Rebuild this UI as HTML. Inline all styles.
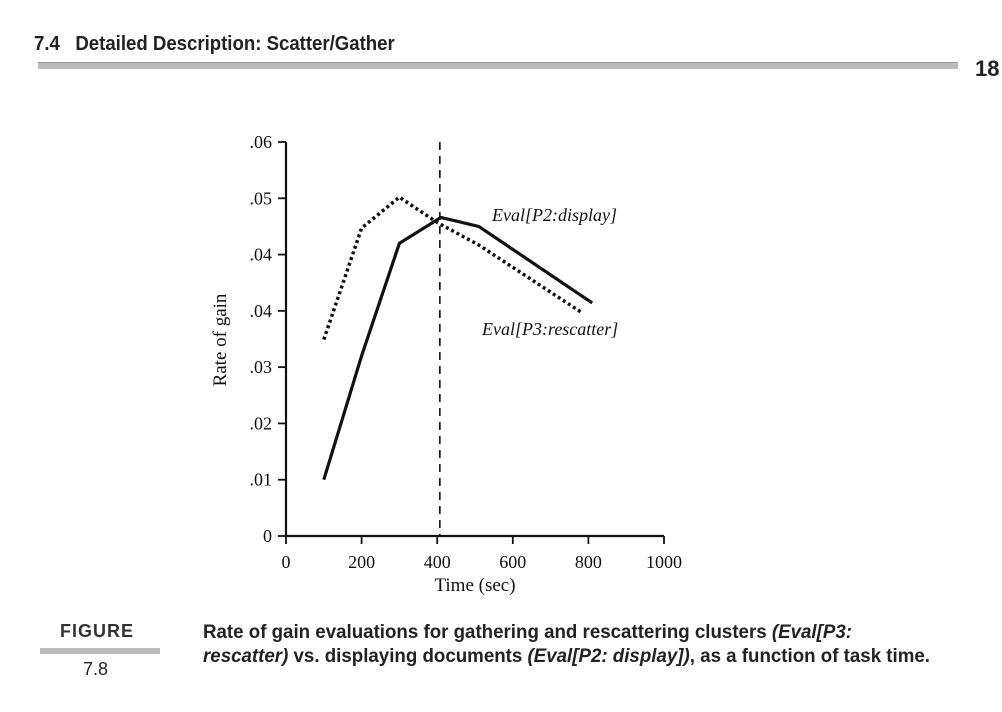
<!DOCTYPE html>
<html><head><meta charset="utf-8"><style>
html,body{margin:0;padding:0;background:#fff;width:1002px;height:712px;overflow:hidden;position:relative}
.sans{font-family:"Liberation Sans",sans-serif}
.serif{font-family:"Liberation Serif",serif}
</style></head><body>
<div class="sans" style="position:absolute;left:34px;top:33px;font-size:20px;font-weight:bold;color:#222;transform:scaleX(0.93);transform-origin:left">7.4&nbsp;&nbsp;&nbsp;Detailed Description: Scatter/Gather</div>
<div style="position:absolute;left:38px;top:62px;width:920px;height:6px;background:#bbb;border-top:1px solid #999"></div>
<div class="sans" style="position:absolute;left:975px;top:56px;font-size:22px;font-weight:bold;color:#222">18</div>
<svg id="chart" width="1002" height="712" style="position:absolute;left:0;top:0"></svg>
<div class="sans" style="position:absolute;left:60px;top:621px;font-size:18px;font-weight:bold;color:#333;letter-spacing:1px">FIGURE</div>
<div style="position:absolute;left:40px;top:648px;width:120px;height:6px;background:#bbb"></div>
<div class="sans" style="position:absolute;left:83px;top:659px;font-size:18px;color:#222">7.8</div>
<div class="sans" style="position:absolute;left:203px;top:621px;font-size:19px;font-weight:bold;line-height:24px;color:#222;width:790px;white-space:nowrap;transform:scaleX(0.985);transform-origin:left">Rate of gain evaluations for gathering and rescattering clusters <i>(Eval[P3:<br>rescatter)</i> vs. displaying documents <i>(Eval[P2: display])</i>, as a function of task time.</div>
<script>
const xTicks=[0,200,400,600,800,1000];
const yTickVals=[0,0.01,0.02,0.03,0.04,0.05,0.06,0.07];
const yTickLabels=['0','.01','.02','.03','.04','.04','.05','.06'];
const displayX=[100,200,300,410,510,810];
const displayY=[0.010,0.032,0.052,0.0566,0.055,0.0414];
const rescatterX=[100,200,300,400,510,780];
const rescatterY=[0.0349,0.0547,0.0602,0.0557,0.0517,0.0398];
const markerX=[407];
const NS='http://www.w3.org/2000/svg';
const svg=document.getElementById('chart');
const X0=286,X1=664,Y0=536,Y1=142;
const sx=v=>X0+(v/1000)*(X1-X0);
const sy=v=>Y0-(v/0.07)*(Y0-Y1);
function mk(tag,attrs){const e=document.createElementNS(NS,tag);for(const k in attrs)e.setAttribute(k,attrs[k]);svg.appendChild(e);return e;}
let e;
e=mk('line',{x1:X0,y1:Y0,x2:X1,y2:Y0,stroke:'#111','stroke-width':2.2});


e=mk('line',{x1:X0,y1:Y0,x2:X0,y2:Y1,stroke:'#111','stroke-width':2.2});


xTicks.forEach(v=>{
 e=mk('line',{x1:sx(v),y1:Y0,x2:sx(v),y2:Y0+8,stroke:'#111','stroke-width':1.8});
 
 
 e=mk('text',{x:sx(v),y:Y0+32,'text-anchor':'middle','font-family':'Liberation Serif, serif','font-size':18,fill:'#111'});
 e.textContent=v;
 
 
});
yTickVals.forEach((v,i)=>{
 e=mk('line',{x1:X0-8,y1:sy(v),x2:X0,y2:sy(v),stroke:'#111','stroke-width':1.8});
 
 
 e=mk('text',{x:X0-14,y:sy(v)+6,'text-anchor':'end','font-family':'Liberation Serif, serif','font-size':18,fill:'#111'});
 e.textContent=yTickLabels[i];
 
 
});
e=mk('text',{x:475,y:591,'text-anchor':'middle','font-family':'Liberation Serif, serif','font-size':19,fill:'#111'});
e.textContent='Time (sec)';


e=mk('text',{x:0,y:0,'text-anchor':'middle','font-family':'Liberation Serif, serif','font-size':19,fill:'#111',transform:'translate(226,340) rotate(-90)'});
e.textContent='Rate of gain';


markerX.forEach(v=>{
 e=mk('line',{x1:sx(v),y1:Y1,x2:sx(v),y2:Y0,stroke:'#111','stroke-width':1.6,'stroke-dasharray':'8,6'});
 
 
});
e=mk('polyline',{points:displayX.map((x,i)=>sx(x)+','+sy(displayY[i])).join(' '),fill:'none',stroke:'#111','stroke-width':3.2,'stroke-linejoin':'miter'});


e=mk('polyline',{points:rescatterX.map((x,i)=>sx(x)+','+sy(rescatterY[i])).join(' '),fill:'none',stroke:'#111','stroke-width':3.5,'stroke-dasharray':'3,3'});


e=mk('text',{x:492,y:221,'font-family':'Liberation Serif, serif','font-size':18,'font-style':'italic',fill:'#111'});
e.textContent='Eval[P2:display]';


e=mk('text',{x:482,y:335,'font-family':'Liberation Serif, serif','font-size':18,'font-style':'italic',fill:'#111'});
e.textContent='Eval[P3:rescatter]';


</script>
</body></html>
